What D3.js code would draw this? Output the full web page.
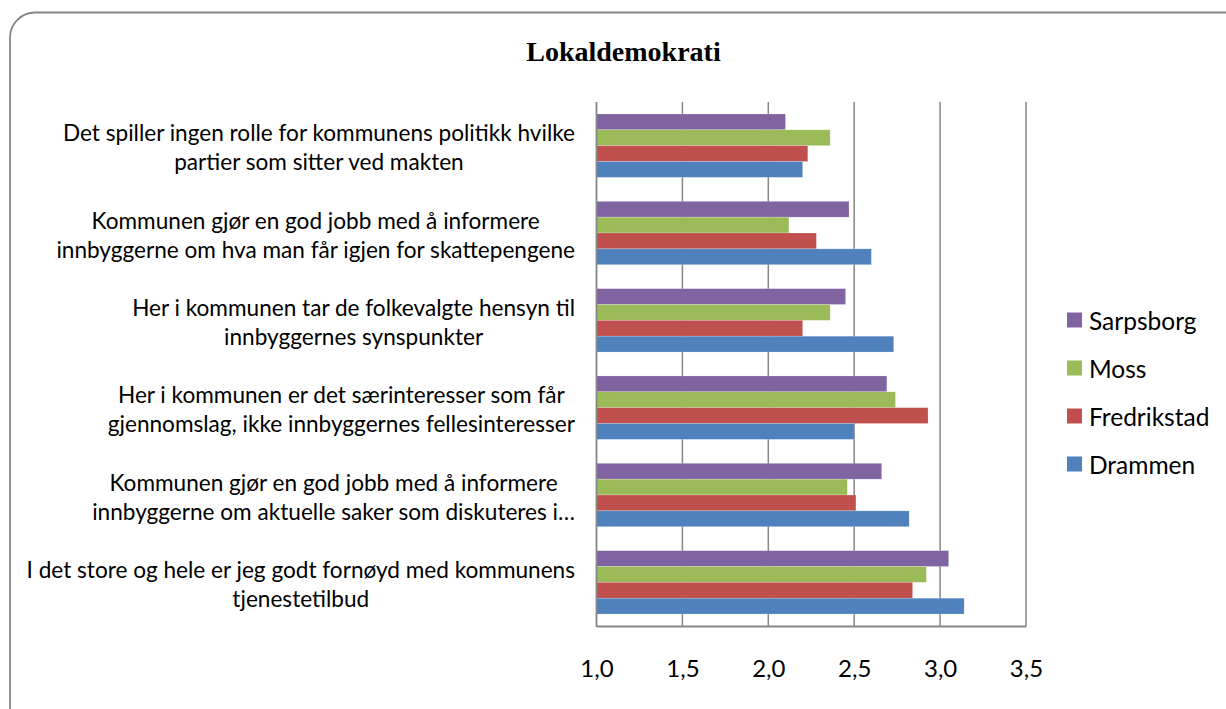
<!DOCTYPE html>
<html>
<head>
<meta charset="utf-8">
<script src="https://cdn.jsdelivr.net/npm/d3@7"></script>
<style>
  body { margin: 0; background: #fff; }
  svg { display: block; }
</style>
</head>
<body>
<div id="chart"></div>
<script>
// data
const categories = [
  ["Det spiller ingen rolle for kommunens politikk hvilke", "partier som sitter ved makten"],
  ["Kommunen gjør en god jobb med å informere", "innbyggerne om hva man får igjen for skattepengene"],
  ["Her i kommunen tar de folkevalgte hensyn til", "innbyggernes synspunkter"],
  ["Her i kommunen er det særinteresser som får", "gjennomslag, ikke innbyggernes fellesinteresser"],
  ["Kommunen gjør en god jobb med å informere", "innbyggerne om aktuelle saker som diskuteres i…"],
  ["I det store og hele er jeg godt fornøyd med kommunens", "tjenestetilbud"]
];
const seriesNames = ["Sarpsborg", "Moss", "Fredrikstad", "Drammen"];
const sarpsborg = [2.10, 2.47, 2.45, 2.69, 2.66, 3.05];
const moss = [2.36, 2.12, 2.36, 2.74, 2.46, 2.92];
const fredrikstad = [2.23, 2.28, 2.20, 2.93, 2.51, 2.84];
const drammen = [2.20, 2.60, 2.73, 2.50, 2.82, 3.14];
const xTicks = [1.0, 1.5, 2.0, 2.5, 3.0, 3.5];

const seriesValues = [sarpsborg, moss, fredrikstad, drammen];
const colors = ["#8064A2", "#9BBB59", "#C0504D", "#4F81BD"];

const W = 1226, H = 709;
const plot = {left: 596.5, right: 1026, top: 102, bottom: 626};
const font = "Lato, 'Noto Sans', sans-serif";

const svg = d3.select("#chart").append("svg")
  .attr("width", W)
  .attr("height", H);

// outer frame (right and bottom edges run off the picture)
svg.append("rect")
  .attr("x", 10).attr("y", 12.5)
  .attr("width", 1240).attr("height", 720)
  .attr("rx", 25).attr("ry", 25)
  .attr("fill", "#fff")
  .attr("stroke", "#868686")
  .attr("stroke-width", 1.8);

svg.append("text")
  .attr("x", 623.5).attr("y", 61)
  .attr("text-anchor", "middle")
  .attr("font-family", "'Liberation Serif', 'Times New Roman', serif")
  .attr("font-weight", "bold")
  .attr("font-size", 28)
  .text("Lokaldemokrati");

const x = d3.scaleLinear()
  .domain([1, 3.5])
  .range([plot.left, plot.right]);

const y = d3.scaleBand()
  .domain(d3.range(categories.length))
  .range([plot.top, plot.bottom])
  .paddingInner(0.274)
  .paddingOuter(0.137);

const ySub = d3.scaleBand()
  .domain(d3.range(seriesNames.length))
  .range([0, y.bandwidth()]);

// gridlines
svg.append("g")
  .selectAll("line")
  .data(xTicks.slice(1))
  .join("line")
  .attr("x1", d => x(d)).attr("x2", d => x(d))
  .attr("y1", plot.top).attr("y2", plot.bottom)
  .attr("stroke", "#868686")
  .attr("stroke-width", 1.5);

// bars
const groups = svg.append("g")
  .selectAll("g")
  .data(categories.map((c, i) => i))
  .join("g")
  .attr("transform", i => `translate(0,${y(i)})`);

groups.selectAll("rect")
  .data(i => seriesValues.map((vals, s) => ({s, v: vals[i]})))
  .join("rect")
  .attr("x", x(1))
  .attr("y", d => ySub(d.s))
  .attr("width", d => x(d.v) - x(1))
  .attr("height", ySub.bandwidth())
  .attr("fill", d => colors[d.s])
  .attr("stroke", "rgba(255,255,255,0.35)")
  .attr("stroke-width", 0.6);

// axes
const xAxis = svg.append("g")
  .attr("transform", `translate(0,${plot.bottom})`)
  .call(d3.axisBottom(x).tickValues(xTicks).tickSize(0).tickPadding(34)
    .tickFormat(d => d3.format(".1f")(d).replace(".", ",")));
xAxis.select(".domain").attr("stroke", "#868686").attr("stroke-width", 1.8);
xAxis.selectAll("text")
  .attr("font-family", font)
  .attr("font-size", 24)
  .attr("fill", "#000");

svg.append("line")
  .attr("x1", plot.left).attr("x2", plot.left)
  .attr("y1", plot.top).attr("y2", plot.bottom + 1)
  .attr("stroke", "#868686")
  .attr("stroke-width", 1.8);

// category labels: block right aligned, lines centred inside block
const labelRight = 575;
const lineGap = 29;
categories.forEach((lines, i) => {
  const cy = y(i) + y.bandwidth() / 2 + 1.5;
  const g = svg.append("g");
  const texts = g.selectAll("text")
    .data(lines)
    .join("text")
    .attr("text-anchor", "middle")
    .attr("dominant-baseline", "central")
    .attr("font-family", font)
    .attr("font-size", 22.6)
    .attr("fill", "#000")
    .attr("y", (d, k) => cy + (k - (lines.length - 1) / 2) * lineGap)
    .text(d => d);
  let maxW = 0;
  texts.each(function() { maxW = Math.max(maxW, this.getComputedTextLength()); });
  texts.attr("x", labelRight - maxW / 2);
});

// legend
const legend = svg.append("g")
  .selectAll("g")
  .data(seriesNames)
  .join("g")
  .attr("transform", (d, i) => `translate(1067,${320 + i * 48})`);

legend.append("rect")
  .attr("x", 0).attr("y", -7.5)
  .attr("width", 15).attr("height", 15)
  .attr("fill", (d, i) => colors[i]);

legend.append("text")
  .attr("x", 22)
  .attr("dominant-baseline", "central")
  .attr("font-family", font)
  .attr("font-size", 24.5)
  .attr("fill", "#000")
  .text(d => d);
</script>
</body>
</html>
